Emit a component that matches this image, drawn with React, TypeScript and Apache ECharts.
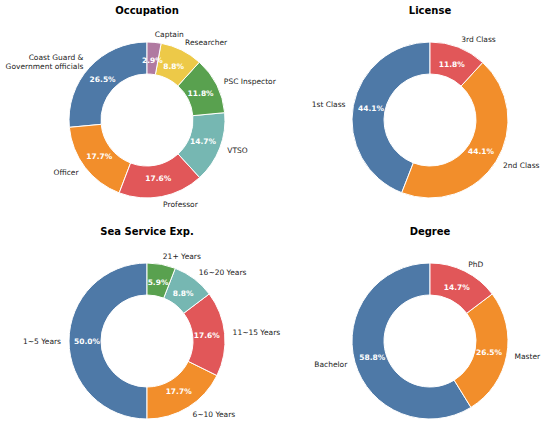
import React, { useEffect, useRef } from "react";
import * as echarts from "echarts";

const occupationNames = ["Coast Guard &\nGovernment officials", "Officer", "Professor", "VTSO", "PSC Inspector", "Researcher", "Captain"];
const occupationValues = [26.5, 17.7, 17.6, 14.7, 11.8, 8.8, 2.9];
const occupationColors = ["#4E79A7", "#F28E2B", "#E15759", "#76B7B2", "#59A14F", "#EDC948", "#B07AA1"];

const licenseNames = ["1st Class", "2nd Class", "3rd Class"];
const licenseValues = [44.1, 44.1, 11.8];
const licenseColors = ["#4E79A7", "#F28E2B", "#E15759"];

const seaNames = ["1~5 Years", "6~10 Years", "11~15 Years", "16~20 Years", "21+ Years"];
const seaValues = [50.0, 17.7, 17.6, 8.8, 5.9];
const seaColors = ["#4E79A7", "#F28E2B", "#E15759", "#76B7B2", "#59A14F"];

const degreeNames = ["Bachelor", "Master", "PhD"];
const degreeValues = [58.8, 26.5, 14.7];
const degreeColors = ["#4E79A7", "#F28E2B", "#E15759"];

const titles = ["Occupation", "License", "Sea Service Exp.", "Degree"];

const FONT = "DejaVu Sans";

function makeSeries(names: string[], values: number[], colors: string[], center: number[]) {
  const data = names.map((n, i) => ({ name: n, value: values[i], itemStyle: { color: colors[i] } }));
  const base = {
    type: "pie",
    center,
    startAngle: 90,
    clockwise: false,
    avoidLabelOverlap: false,
    silent: true,
  };
  return [
    {
      ...base,
      radius: [46, 78],
      itemStyle: { borderColor: "#ffffff", borderWidth: 1 },
      label: {
        show: true,
        position: "outside",
        formatter: "{b}",
        color: "#222222",
        fontFamily: FONT,
        fontSize: 7.5,
        lineHeight: 9,
        distanceToLabelLine: 0,
        bleedMargin: 0,
        overflow: "none",
      },
      labelLine: { show: false, length: 8, length2: 0 },
      data,
    },
    {
      ...base,
      radius: [36, 78],
      itemStyle: { color: "rgba(0,0,0,0)", borderWidth: 0 },
      label: {
        show: true,
        position: "inside",
        formatter: (p: any) => p.value.toFixed(1) + "%",
        color: "#ffffff",
        fontFamily: FONT,
        fontSize: 7.5,
        fontWeight: "bold",
      },
      labelLine: { show: false },
      data: names.map((n, i) => ({ name: n, value: values[i], itemStyle: { color: "rgba(0,0,0,0)" } })),
    },
  ];
}

export default function App() {
  const ref = useRef<HTMLDivElement>(null);
  useEffect(() => {
    if (!ref.current) return;
    const chart = echarts.init(ref.current, null, { renderer: "svg" });
    const centers = [
      [147, 120],
      [430, 120],
      [147, 341],
      [430, 341],
    ];
    const titleTops = [5, 5, 226, 226];
    chart.setOption({
      animation: false,
      backgroundColor: "#ffffff",
      title: titles.map((t, i) => ({
        text: t,
        left: centers[i][0],
        top: titleTops[i],
        textAlign: "center",
        padding: 0,
        textStyle: { fontFamily: FONT, fontSize: 10, fontWeight: "bold", color: "#000000" },
      })),
      series: [
        ...makeSeries(occupationNames, occupationValues, occupationColors, centers[0]),
        ...makeSeries(licenseNames, licenseValues, licenseColors, centers[1]),
        ...makeSeries(seaNames, seaValues, seaColors, centers[2]),
        ...makeSeries(degreeNames, degreeValues, degreeColors, centers[3]),
      ],
    });
    return () => chart.dispose();
  }, []);
  return <div ref={ref} style={{ position: "absolute", left: 0, top: 0, width: 550, height: 428 }} />;
}
